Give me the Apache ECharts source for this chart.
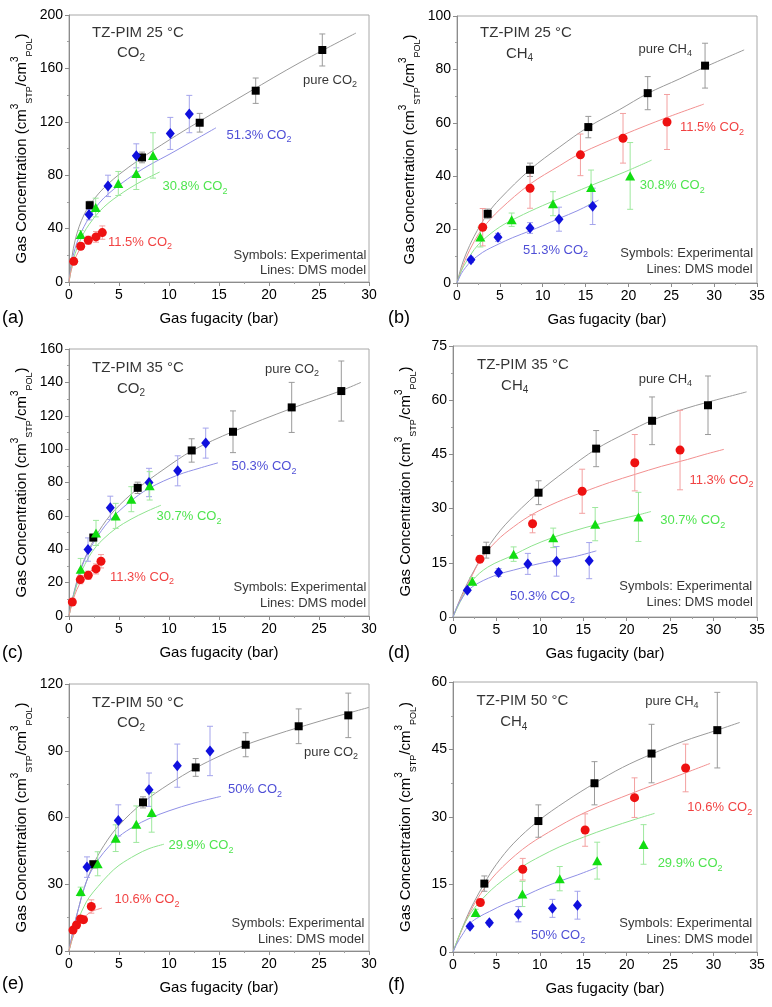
<!DOCTYPE html>
<html>
<head>
<meta charset="utf-8">
<script src="https://cdn.jsdelivr.net/npm/echarts@6/dist/echarts.min.js"></script>
<style>
  html, body { margin: 0; background: #fff; }
  #chart { width: 772px; height: 1007px; }
</style>
</head>
<body>
<div id="chart"></div>
<script>
// points are [fugacity, concentration, error]; fits are [fugacity, concentration]

// (a) TZ-PIM 25 °C, CO2
var a_pure = [[2.07, 57.5, 3], [7.3, 93.3, 4], [13.07, 119.3, 7], [18.67, 143.3, 9.5], [25.33, 173.8, 12]];
var a_513 = [[2.0, 50.5, 4], [3.9, 72, 8], [6.73, 94.5, 9], [10.13, 111.3, 12], [12.03, 125.8, 14]];
var a_308 = [[1.17, 35.5, 3], [2.67, 55.8, 7], [4.93, 73.8, 9], [6.73, 81.3, 12], [8.4, 94.8, 17]];
var a_115 = [[0.47, 15.5, 2], [1.17, 26.8, 2.5], [1.93, 31.3, 3], [2.7, 33.8, 4], [3.33, 37, 5]];
var a_pureFit = [[0, 0], [0.3, 19], [0.6, 30.8], [1, 41.3], [1.5, 50.3], [2, 56.9], [3, 66.6], [4, 74.1], [5, 80.5], [7, 91.5], [10, 106.3], [13, 120.1], [18, 142.3], [23, 164], [28.7, 186.5]];
var a_513Fit = [[0, 0], [0.3, 15], [0.6, 25], [1, 33.5], [1.5, 41.5], [2, 48], [3, 59], [4, 66.5], [5, 72.5], [6.7, 81.5], [8.3, 88.7], [10, 95.5], [12, 104], [14.7, 115.5]];
var a_308Fit = [[0, 0], [0.3, 12], [0.6, 21], [1, 29], [1.5, 37], [2, 43], [3, 52.5], [4, 59.5], [5, 65], [6, 70], [7.5, 76.5], [9.07, 82.4]];
var a_115Fit = [[0, 0], [0.2, 8], [0.5, 15.5], [1, 23.5], [1.5, 28.5], [2, 32], [2.7, 35.5], [3.4, 38.5]];

// (b) TZ-PIM 25 °C, CH4
var b_pure = [[3.58, 25.9, 1.8], [8.52, 42.4, 2.5], [15.32, 58.4, 4], [22.25, 71.1, 6.2], [28.94, 81.4, 8.4]];
var b_115 = [[3.0, 20.9, 7], [8.52, 35.5, 7.5], [14.4, 48, 7.8], [19.37, 54.2, 9.3], [24.5, 60.3, 10.3]];
var b_308 = [[2.72, 17.2, 3.7], [6.38, 23.7, 2.5], [11.2, 29.7, 4.5], [15.64, 35.8, 6.5], [20.2, 40.1, 12.5]];
var b_513 = [[1.63, 8.7, 1], [4.78, 17.1, 1.5], [8.52, 20.6, 2], [11.9, 23.9, 4.5], [15.83, 28.7, 6.8]];
var b_pureFit = [[0, 0], [0.5, 6], [1, 10.5], [2, 17.5], [3.58, 26], [5, 31.5], [8.5, 42.4], [12, 51], [15.3, 58.4], [19, 65], [22.25, 71], [26, 76.5], [29, 81], [33.5, 87.3]];
var b_115Fit = [[0, 0], [1, 9], [2, 15.5], [3, 20.5], [5, 27.5], [8.5, 37], [12, 44], [14.4, 48.5], [19.4, 55.5], [24.5, 62], [28.8, 67]];
var b_308Fit = [[0, 0], [0.5, 4.5], [1, 7.5], [2, 12.5], [3, 16], [5, 21], [7, 24.5], [10, 29], [13, 33], [16, 37], [19.5, 41.5], [22.7, 46]];
var b_513Fit = [[0, 0], [0.5, 3.5], [1, 5.8], [1.6, 8], [3, 11.5], [4.8, 14.5], [6.5, 17], [8.5, 19.5], [10, 21.5], [12, 24.3], [14, 27], [16.5, 31]];

// (c) TZ-PIM 35 °C, CO2
var c_pure = [[2.43, 47, 2], [6.87, 76.8, 3.4], [12.27, 99.2, 7], [16.4, 110.4, 12.5], [22.27, 125, 15], [27.23, 134.8, 18]];
var c_503 = [[1.9, 39.8, 7], [4.13, 64.8, 7], [8.0, 80, 8.5], [10.87, 87, 9], [13.67, 103.6, 9]];
var c_307 = [[1.17, 28, 6.5], [2.7, 49.8, 7.5], [4.67, 60, 7.5], [6.23, 70, 7.5], [8.07, 78, 8.5]];
var c_113 = [[0.33, 8.4, 2], [1.13, 21.8, 2.5], [1.93, 24.4, 2.5], [2.7, 28.2, 3], [3.2, 32.8, 4]];
var c_pureFit = [[0, 0], [0.3, 9], [0.7, 19], [1.2, 29], [2, 40], [3, 51], [4.5, 63], [6.9, 76.5], [9.5, 88], [12.3, 99], [16.4, 110.5], [22.3, 124.5], [27.2, 135], [29.2, 140]];
var c_503Fit = [[0, 0], [0.3, 9], [0.7, 18], [1.2, 28], [1.9, 38], [3, 49], [4.1, 57.5], [6, 68], [8, 76.5], [10.9, 84.5], [13, 88.5], [14.9, 91.8]];
var c_307Fit = [[0, 0], [0.3, 8], [0.7, 17], [1.2, 26], [2, 35.5], [2.7, 41.5], [3.5, 46.5], [4.7, 52.5], [6.2, 58], [7.7, 62.5], [9.2, 66.4]];
var c_113Fit = [[0, 0], [0.3, 7.5], [0.6, 13], [1, 18.5], [1.5, 23], [2, 26], [2.7, 29.5], [3.3, 32.5]];

// (d) TZ-PIM 35 °C, CH4
var d_pure = [[3.83, 18.5, 2.2], [9.85, 34.4, 3.3], [16.48, 46.6, 5], [22.92, 54.3, 6.6], [29.36, 58.6, 8.1]];
var d_113 = [[3.1, 16, 1], [9.16, 25.8, 2.5], [14.87, 34.8, 6.1], [20.93, 42.7, 7.8], [26.14, 46.2, 11]];
var d_307 = [[2.22, 9.9, 1], [6.98, 17.4, 2], [11.54, 21.9, 2.7], [16.37, 25.7, 4.6], [21.35, 27.7, 6.8]];
var d_503 = [[1.65, 7.4, 0.5], [5.25, 12.3, 1.1], [8.62, 14.7, 2.9], [11.92, 15.4, 4.1], [15.68, 15.6, 5]];
var d_pureFit = [[0, 0], [1, 6], [2, 11], [3.8, 18.5], [6, 25.5], [9.85, 34.5], [13, 40.5], [16.5, 46.5], [20, 51], [23, 54.5], [26.5, 57.5], [29.4, 59.5], [33.8, 62.3]];
var d_113Fit = [[0, 0], [1, 5.5], [2, 10.5], [3.1, 15.5], [5, 21], [7, 25], [9.2, 28.5], [12, 31.8], [14.9, 34.5], [18, 37.2], [21, 39.5], [24, 41.7], [27, 43.6], [29, 45], [31.2, 46.4]];
var d_307Fit = [[0, 0], [1, 5], [2.2, 10], [4, 13.8], [7, 17.2], [9, 19.6], [11.5, 22], [14, 23.9], [16.4, 25.5], [19, 27], [21.4, 28.3], [22.8, 29.2]];
var d_503Fit = [[0, 0], [0.5, 3], [1, 5], [1.65, 7.2], [3, 9.5], [5.2, 11.8], [7, 13], [8.6, 14], [10, 14.8], [12, 15.8], [14, 16.7], [16.5, 18.3]];

// (e) TZ-PIM 50 °C, CO2
var e_pure = [[2.43, 39, 1], [7.4, 66.8, 2.5], [12.67, 82.5, 4], [17.67, 92.7, 5.4], [22.97, 101, 7.8], [27.93, 105.9, 10]];
var e_50 = [[1.8, 37.7, 4.6], [4.93, 58.7, 7], [8.0, 72.5, 7.5], [10.83, 83.3, 9.7], [14.1, 89.9, 11.1]];
var e_299 = [[1.17, 26.7, 2], [2.87, 39.2, 5.4], [4.67, 50.7, 6], [6.73, 57, 8.2], [8.27, 62.3, 8.9]];
var e_106 = [[0.4, 9.4, 1], [0.75, 11.7, 1], [1.15, 14.4, 1.5], [1.45, 14.1, 1.5], [2.23, 20, 3]];
var e_pureFit = [[0, 0], [0.5, 11], [1, 20], [1.5, 28], [2.4, 38.5], [3.5, 47.5], [5, 56.5], [7.4, 66.7], [10, 75], [12.7, 82.3], [15, 87.5], [17.7, 92.7], [20.5, 97], [23, 100.5], [26, 104.5], [28, 107], [30, 109.5]];
var e_50Fit = [[0, 0], [0.5, 11], [1, 20], [1.5, 28], [2, 34], [3, 41.5], [4, 47], [5, 51.5], [6.5, 56], [8, 59.5], [10, 63], [12.5, 66.5], [15.2, 69.5]];
var e_299Fit = [[0, 0], [0.5, 8], [1, 15], [1.5, 20], [2, 24], [2.9, 29], [4, 34.5], [5, 38.5], [6.7, 43.2], [8, 46], [9.5, 48]];
var e_106Fit = [[0, 0], [0.3, 5], [0.6, 8.5], [1, 12], [1.5, 15], [2, 17], [2.5, 18.2], [3.3, 19.3]];

// (f) TZ-PIM 50 °C, CH4
var f_pure = [[3.61, 15.2, 1.7], [9.83, 29.1, 3.6], [16.29, 37.5, 4.8], [22.86, 44.1, 6.5], [30.43, 49.3, 8.4]];
var f_106 = [[3.15, 11, 0.7], [8.03, 18.4, 2.4], [15.21, 27.1, 3.6], [20.9, 34.3, 4.4], [26.78, 40.9, 5.3]];
var f_299 = [[2.61, 8.8, 0.7], [7.99, 12.9, 2.8], [12.29, 16.3, 2.7], [16.6, 20.3, 4.1], [21.94, 23.9, 4.4]];
var f_50 = [[1.96, 5.7, 0.5], [4.19, 6.5, 0.5], [7.53, 8.4, 1.7], [11.45, 9.7, 2], [14.33, 10.4, 3.1]];
var f_pureFit = [[0, 0], [1, 5], [2, 9.5], [3.6, 15.2], [5, 19.5], [7, 24.2], [9.8, 29.1], [13, 33.5], [16.3, 37.5], [19.5, 41], [22.9, 44], [26.5, 46.8], [30.4, 49.3], [33, 51]];
var f_106Fit = [[0, 0], [1, 4.8], [2, 9], [3.2, 13], [5, 17.5], [8, 22.8], [11, 26.6], [15.2, 31], [20.9, 35.5], [25, 38.5], [29.6, 41.9]];
var f_299Fit = [[0, 0], [1, 5], [2, 8.5], [3, 11], [5, 14.8], [8, 19], [10, 21.2], [12.3, 23.4], [15, 25.5], [18, 27.6], [21, 29.5], [23.2, 30.8]];
var f_50Fit = [[0, 0], [0.5, 2], [1, 3.6], [2, 6.4], [3, 7.8], [4.2, 9], [6, 10.7], [7.5, 11.8], [9.5, 13.6], [11.5, 15.2], [14.3, 17.1], [16.6, 18.8]];

// annotation texts: [x, y, text, style]
var a_notes = [[6.9, 186.3, 'TZ-PIM 25 °C', 't'], [6.2, 171.3, 'CO{s|2}', 't'], [26.1, 151.3, 'pure CO{s|2}', 'k'], [19, 110, '51.3% CO{s|2}', 'b'], [12.6, 71.3, '30.8% CO{s|2}', 'g'], [7.1, 30, '11.5% CO{s|2}', 'r'], [23.1, 20, 'Symbols: Experimental', 'k'], [24.4, 8.3, 'Lines: DMS model', 'k']];
var b_notes = [[8.05, 93.5, 'TZ-PIM 25 °C', 't'], [7.3, 86, 'CH{s|4}', 't'], [24.3, 87.5, 'pure CH{s|4}', 'k'], [29.75, 58.2, '11.5% CO{s|2}', 'r'], [25.1, 36.4, '30.8% CO{s|2}', 'g'], [11.5, 12.2, '51.3% CO{s|2}', 'b'], [26.8, 11.2, 'Symbols: Experimental', 'k'], [28.3, 5.2, 'Lines: DMS model', 'k']];
var c_notes = [[6.9, 148.8, 'TZ-PIM 35 °C', 't'], [6.2, 136.4, 'CO{s|2}', 't'], [22.3, 147.8, 'pure CO{s|2}', 'k'], [19.5, 89.4, '50.3% CO{s|2}', 'b'], [12, 59.4, '30.7% CO{s|2}', 'g'], [7.3, 23.4, '11.3% CO{s|2}', 'r'], [23.1, 17.4, 'Symbols: Experimental', 'k'], [24.4, 7.8, 'Lines: DMS model', 'k']];
var d_notes = [[8.05, 69.8, 'TZ-PIM 35 °C', 't'], [7.1, 64.1, 'CH{s|4}', 't'], [24.45, 65.8, 'pure CH{s|4}', 'k'], [30.9, 37.9, '11.3% CO{s|2}', 'r'], [27.6, 26.6, '30.7% CO{s|2}', 'g'], [10.3, 5.7, '50.3% CO{s|2}', 'b'], [26.8, 8.5, 'Symbols: Experimental', 'k'], [28.4, 4, 'Lines: DMS model', 'k']];
var e_notes = [[6.9, 111.4, 'TZ-PIM 50 °C', 't'], [6.2, 102.4, 'CO{s|2}', 't'], [26.2, 89.3, 'pure CO{s|2}', 'k'], [18.6, 72.5, '50% CO{s|2}', 'b'], [13.2, 47.4, '29.9% CO{s|2}', 'g'], [7.8, 23, '10.6% CO{s|2}', 'r'], [22.9, 12.5, 'Symbols: Experimental', 'k'], [24.2, 5, 'Lines: DMS model', 'k']];
var f_notes = [[8, 55.7, 'TZ-PIM 50 °C', 't'], [7, 51.1, 'CH{s|4}', 't'], [25.2, 55.7, 'pure CH{s|4}', 'k'], [30.7, 32.1, '10.6% CO{s|2}', 'r'], [27.3, 19.6, '29.9% CO{s|2}', 'g'], [12.1, 3.6, '50% CO{s|2}', 'b'], [26.8, 6.4, 'Symbols: Experimental', 'k'], [28.35, 2.9, 'Lines: DMS model', 'k']];

var FONT = '"Liberation Sans", Arial, sans-serif';
var markColor = { k: '#000000', r: '#ee1111', g: '#11dd11', b: '#1010dd' };
var barColor = { k: '#9a9a9a', r: '#f3a0a0', g: '#9de89d', b: '#a4a4ec' };
var fitColor = { k: '#9a9a9a', r: '#f29090', g: '#8fe38f', b: '#9090e6' };
var noteColor = { t: '#000000', k: '#000000', r: '#ee1111', g: '#22dd22', b: '#2222cc' };
var shape = { k: 'rect', r: 'circle', g: 'triangle', b: 'diamond' };
var shapeSize = { k: 8, r: 9, g: [10, 9], b: [9, 11] };

var panels = [
    { box: { left: 69, top: 15, width: 300, height: 267 }, xMax: 30, yMax: 200, yStep: 40, letter: '(a)', lx: 2, ly: 309,
      sets: { k: [a_pure, a_pureFit], b: [a_513, a_513Fit], g: [a_308, a_308Fit], r: [a_115, a_115Fit] }, notes: a_notes },
    { box: { left: 457, top: 16, width: 300, height: 267 }, xMax: 35, yMax: 100, yStep: 20, letter: '(b)', lx: 388, ly: 309,
      sets: { k: [b_pure, b_pureFit], r: [b_115, b_115Fit], g: [b_308, b_308Fit], b: [b_513, b_513Fit] }, notes: b_notes },
    { box: { left: 69, top: 349, width: 300, height: 267 }, xMax: 30, yMax: 160, yStep: 20, letter: '(c)', lx: 2, ly: 644,
      sets: { k: [c_pure, c_pureFit], b: [c_503, c_503Fit], g: [c_307, c_307Fit], r: [c_113, c_113Fit] }, notes: c_notes },
    { box: { left: 453, top: 346, width: 304, height: 271 }, xMax: 35, yMax: 75, yStep: 15, letter: '(d)', lx: 388, ly: 644,
      sets: { k: [d_pure, d_pureFit], r: [d_113, d_113Fit], g: [d_307, d_307Fit], b: [d_503, d_503Fit] }, notes: d_notes },
    { box: { left: 69, top: 684, width: 300, height: 267 }, xMax: 30, yMax: 120, yStep: 30, letter: '(e)', lx: 2, ly: 975,
      sets: { k: [e_pure, e_pureFit], b: [e_50, e_50Fit], g: [e_299, e_299Fit], r: [e_106, e_106Fit] }, notes: e_notes },
    { box: { left: 453, top: 682, width: 304, height: 270 }, xMax: 35, yMax: 60, yStep: 15, letter: '(f)', lx: 388, ly: 976,
      sets: { k: [f_pure, f_pureFit], r: [f_106, f_106Fit], g: [f_299, f_299Fit], b: [f_50, f_50Fit] }, notes: f_notes }
];

function errorBars(color) {
    return function (params, api) {
        var x = api.value(0), y = api.value(1), e = api.value(2);
        var hi = api.coord([x, y + e]);
        var lo = api.coord([x, y - e]);
        var w = 3;
        var st = { stroke: color, lineWidth: 1 };
        return {
            type: 'group',
            children: [
                { type: 'line', shape: { x1: hi[0], y1: hi[1], x2: lo[0], y2: lo[1] }, style: st },
                { type: 'line', shape: { x1: hi[0] - w, y1: hi[1], x2: hi[0] + w, y2: hi[1] }, style: st },
                { type: 'line', shape: { x1: lo[0] - w, y1: lo[1], x2: lo[0] + w, y2: lo[1] }, style: st }
            ]
        };
    };
}

function noteItem(n) {
    var big = n[3] === 't';
    var c = noteColor[n[3]];
    return {
        value: [n[0], n[1]],
        label: {
            formatter: n[2],
            color: c,
            fontSize: big ? 15 : 13,
            lineHeight: big ? 20 : 18,
            rich: {
                s: { color: c, fontFamily: FONT, fontSize: big ? 10 : 9, verticalAlign: 'bottom', lineHeight: 11 }
            }
        }
    };
}

var option = { animation: false, grid: [], xAxis: [], yAxis: [], series: [], graphic: [] };

panels.forEach(function (p, i) {
    option.grid.push({
        left: p.box.left, top: p.box.top, width: p.box.width, height: p.box.height,
        show: true, borderColor: '#a8a8a8', borderWidth: 1
    });
    var axisCommon = {
        gridIndex: i,
        min: 0,
        axisLine: { show: true, lineStyle: { color: '#8c8c8c', width: 1 } },
        axisTick: { show: true, inside: false, length: 4, lineStyle: { color: '#8c8c8c' } },
        minorTick: { show: true, splitNumber: 2, length: 2, lineStyle: { color: '#a0a0a0' } },
        splitLine: { show: false },
        axisLabel: { color: '#000', fontSize: 14, fontFamily: FONT, margin: 6 },
        nameLocation: 'middle'
    };
    option.xAxis.push(Object.assign({}, axisCommon, {
        type: 'value', max: p.xMax, interval: 5,
        name: 'Gas fugacity (bar)', nameGap: 29,
        nameTextStyle: { color: '#000', fontSize: 15, fontFamily: FONT }
    }));
    option.yAxis.push(Object.assign({}, axisCommon, {
        type: 'value', max: p.yMax, interval: p.yStep,
        name: 'Gas Concentration (cm{p|3}{s|STP}/cm{p|3}{s|POL})', nameGap: 35,
        nameTextStyle: {
            color: '#000', fontSize: 15, fontFamily: FONT, lineHeight: 24,
            rich: {
                p: { color: '#000', fontSize: 10, fontFamily: FONT, verticalAlign: 'top', lineHeight: 12 },
                s: { color: '#000', fontSize: 9, fontFamily: FONT, verticalAlign: 'bottom', lineHeight: 12 }
            }
        }
    }));

    var keys = Object.keys(p.sets);
    keys.forEach(function (k) {
        option.series.push({
            type: 'line', xAxisIndex: i, yAxisIndex: i, z: 2,
            data: p.sets[k][1], showSymbol: false, smooth: 0.35,
            lineStyle: { color: fitColor[k], width: 1 }, silent: true
        });
    });
    keys.forEach(function (k) {
        option.series.push({
            type: 'custom', xAxisIndex: i, yAxisIndex: i, z: 3,
            data: p.sets[k][0], encode: { x: 0, y: 1 },
            renderItem: errorBars(barColor[k]), silent: true
        });
    });
    keys.forEach(function (k) {
        option.series.push({
            type: 'scatter', xAxisIndex: i, yAxisIndex: i, z: 4,
            data: p.sets[k][0].map(function (d) { return [d[0], d[1]]; }),
            symbol: shape[k], symbolSize: shapeSize[k],
            itemStyle: { color: markColor[k], opacity: 1 }, silent: true
        });
    });
    option.series.push({
        type: 'scatter', xAxisIndex: i, yAxisIndex: i, z: 5,
        symbolSize: 1, itemStyle: { color: 'rgba(0,0,0,0)' }, silent: true,
        label: { show: true, position: 'inside', fontFamily: FONT },
        data: p.notes.map(noteItem)
    });
    option.graphic.push({
        type: 'text', left: p.lx, top: p.ly,
        style: { text: p.letter, font: '18px ' + FONT, fill: '#000' }
    });
});

var chart = echarts.init(document.getElementById('chart'));
chart.setOption(option);
</script>
</body>
</html>
